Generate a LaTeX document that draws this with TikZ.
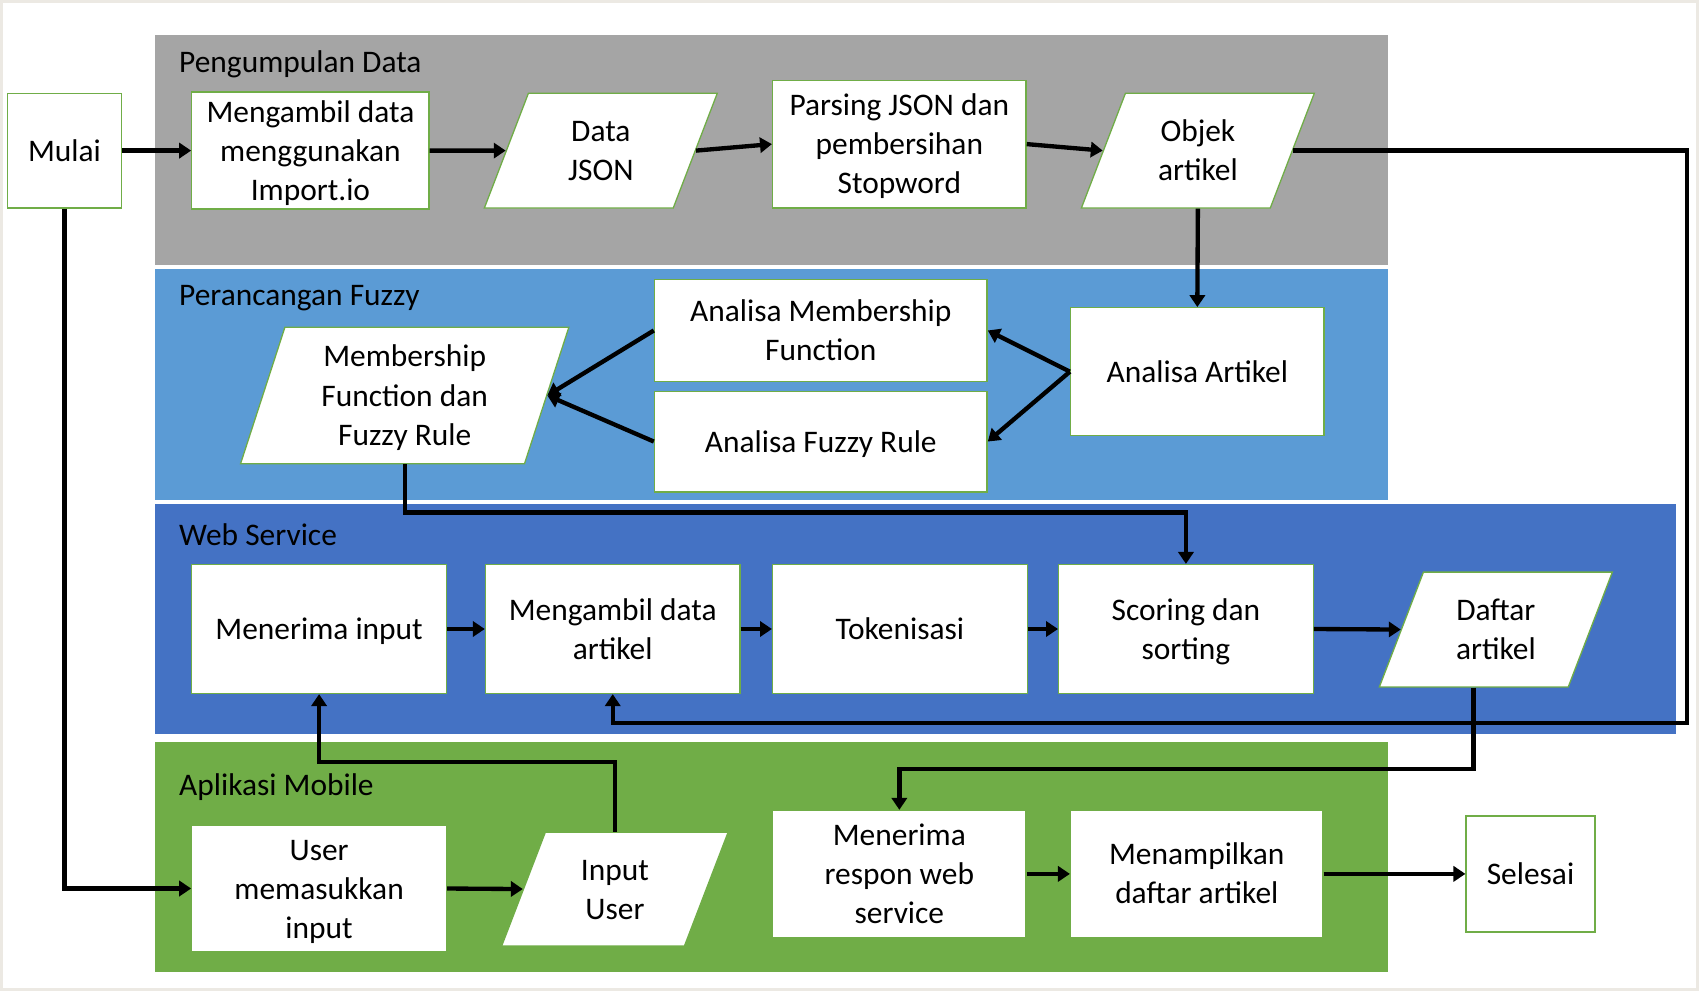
\documentclass[tikz,border=0pt]{standalone}
\usepackage{fontspec}
\setmainfont{Carlito}
\usetikzlibrary{shapes.geometric,arrows.meta}
\definecolor{bandgray}{HTML}{A5A5A5}
\definecolor{bandlblue}{HTML}{5B9BD5}
\definecolor{bandblue}{HTML}{4472C4}
\definecolor{bandgreen}{HTML}{70AD47}
\definecolor{boxedge}{HTML}{70AD47}
\definecolor{frameclr}{HTML}{ECE9E3}
\newcommand{\sr}{\rule[-4.15pt]{0pt}{18pt}}
\begin{document}
\begin{tikzpicture}[x=0.5pt,y=-0.5pt,
  font=\fontsize{14.5pt}{18pt}\selectfont,
  box/.style={draw=boxedge, line width=0.6pt, fill=white, align=center, inner sep=0pt},
  para/.style={box, trapezium, trapezium left angle=69, trapezium right angle=111, trapezium stretches body=true, inner ysep=#1},
  conn/.style={line width=2pt, -{Triangle[length=5.5pt,width=7pt]}},
  bandlabel/.style={anchor=west, inner sep=0pt}
]
\useasboundingbox (0,0) rectangle (1568,915);
\fill[white] (0,0) rectangle (1568,915);
\draw[frameclr, line width=1.5pt] (1.5,1.5) rectangle (1566.5,913.5);

% bands
\fill[bandgray]  (143,32)  rectangle (1281,245);
\fill[bandlblue] (143,248) rectangle (1281,461);
\fill[bandblue]  (143,465) rectangle (1547,677);
\fill[bandgreen] (143,685) rectangle (1281,897);

\node[bandlabel] (lbl1) at (165,57)  {\sr Pengumpulan Data};
\node[bandlabel] (lbl2) at (165,272) {\sr Perancangan Fuzzy};
\node[bandlabel] (lbl3) at (165,494) {\sr Web Service};
\node[bandlabel] (lbl4) at (165,724) {\sr Aplikasi Mobile};

% Pengumpulan Data
\node[box, minimum width=52.5pt, minimum height=53pt] (mulai) at (59.5,139) {\sr Mulai};
\node[box, minimum width=109.5pt, minimum height=53pt] (ambil1) at (286.5,139) {\sr Mengambil data\\menggunakan\\\sr Import.io};
\node[para=8.5pt, minimum width=107.5pt] (dj) at (554.5,139) {\sr Data\\\sr JSON};
\node[box, minimum width=117pt, minimum height=59pt] (parsing) at (830,133) {\sr Parsing JSON dan\\pembersihan\\\sr Stopword};
\node[para=8.5pt, minimum width=107.5pt] (objek) at (1105.5,139) {\sr Objek\\\sr artikel};

% Perancangan Fuzzy
\node[box, minimum width=117pt, minimum height=59pt] (aa) at (1105,343) {\sr Analisa Artikel};
\node[box, minimum width=153.5pt, minimum height=47pt] (amf) at (757.5,305) {\sr Analisa Membership\\\sr Function};
\node[box, minimum width=153.5pt, minimum height=46.5pt] (afr) at (757.5,407.5) {\sr Analisa Fuzzy Rule};
\node[para=4.5pt, trapezium left angle=72, trapezium right angle=108, minimum width=151.5pt] (mf) at (373.5,365) {\sr Membership\\Function dan\\\sr Fuzzy Rule};

% Web Service
\node[box, minimum width=117.5pt, minimum height=59.5pt] (menerima) at (294.5,580.5) {\sr Menerima input};
\node[box, minimum width=117.5pt, minimum height=59.5pt] (ambil2) at (565.5,580.5) {\sr Mengambil data\\\sr artikel};
\node[box, minimum width=117.5pt, minimum height=59.5pt] (token) at (830.5,580.5) {\sr Tokenisasi};
\node[box, minimum width=117.5pt, minimum height=59.5pt] (scoring) at (1094.5,580.5) {\sr Scoring dan\\\sr sorting};
\node[para=8.5pt, minimum width=107.5pt] (daftar) at (1380.5,581) {\sr Daftar\\\sr artikel};

% Aplikasi Mobile
\node[box, minimum width=117.5pt, minimum height=58pt] (um) at (294.5,820) {\sr User\\memasukkan\\\sr input};
\node[para=8.25pt, minimum width=104.5pt] (iu) at (567.5,820.5) {\sr Input\\\sr User};
\node[box, minimum width=117pt, minimum height=58.5pt] (respon) at (830,806.5) {\sr Menerima\\respon web\\\sr service};
\node[box, minimum width=116.5pt, minimum height=58.5pt] (tampil) at (1104.5,806.5) {\sr Menampilkan\\\sr daftar artikel};
\node[box, minimum width=59.5pt, minimum height=53.5pt] (selesai) at (1412.5,806.5) {\sr Selesai};

% turning points
\coordinate (loopcorner) at (1557,667);
\coordinate (fuzzyturn) at (700,473);
\coordinate (dafturn) at (1000,710);
\coordinate (iuturn) at (400,703);

% connectors
\draw[conn] (mulai.east) -- (ambil1.west);
\draw[conn] (ambil1.east) -- (dj.west);
\draw[conn] (dj.east) -- (parsing.west);
\draw[conn] (parsing.east) -- (objek.west);
\draw[conn] (objek.south) -- (aa.north);
\draw[conn] (objek.east) -| (loopcorner) -| (ambil2.south);
\draw[conn] (aa.west) -- (amf.east);
\draw[conn] (aa.west) -- (afr.east);
\draw[conn] (amf.west) -- (mf.east);
\draw[conn] (afr.west) -- (mf.east);
\draw[conn] (mf.south) |- (fuzzyturn) -| (scoring.north);
\draw[conn] (menerima.east) -- (ambil2.west);
\draw[conn] (ambil2.east) -- (token.west);
\draw[conn] (token.east) -- (scoring.west);
\draw[conn] (scoring.east) -- (daftar.west);
\draw[conn] (daftar.bottom side) |- (dafturn) -| (respon.north);
\draw[conn] (iu.north) |- (iuturn) -| (menerima.south);
\draw[conn] (mulai.south) |- (um.west);
\draw[conn] (um.east) -- (iu.west);
\draw[conn] (respon.east) -- (tampil.west);
\draw[conn] (tampil.east) -- (selesai.west);
\end{tikzpicture}
\end{document}
